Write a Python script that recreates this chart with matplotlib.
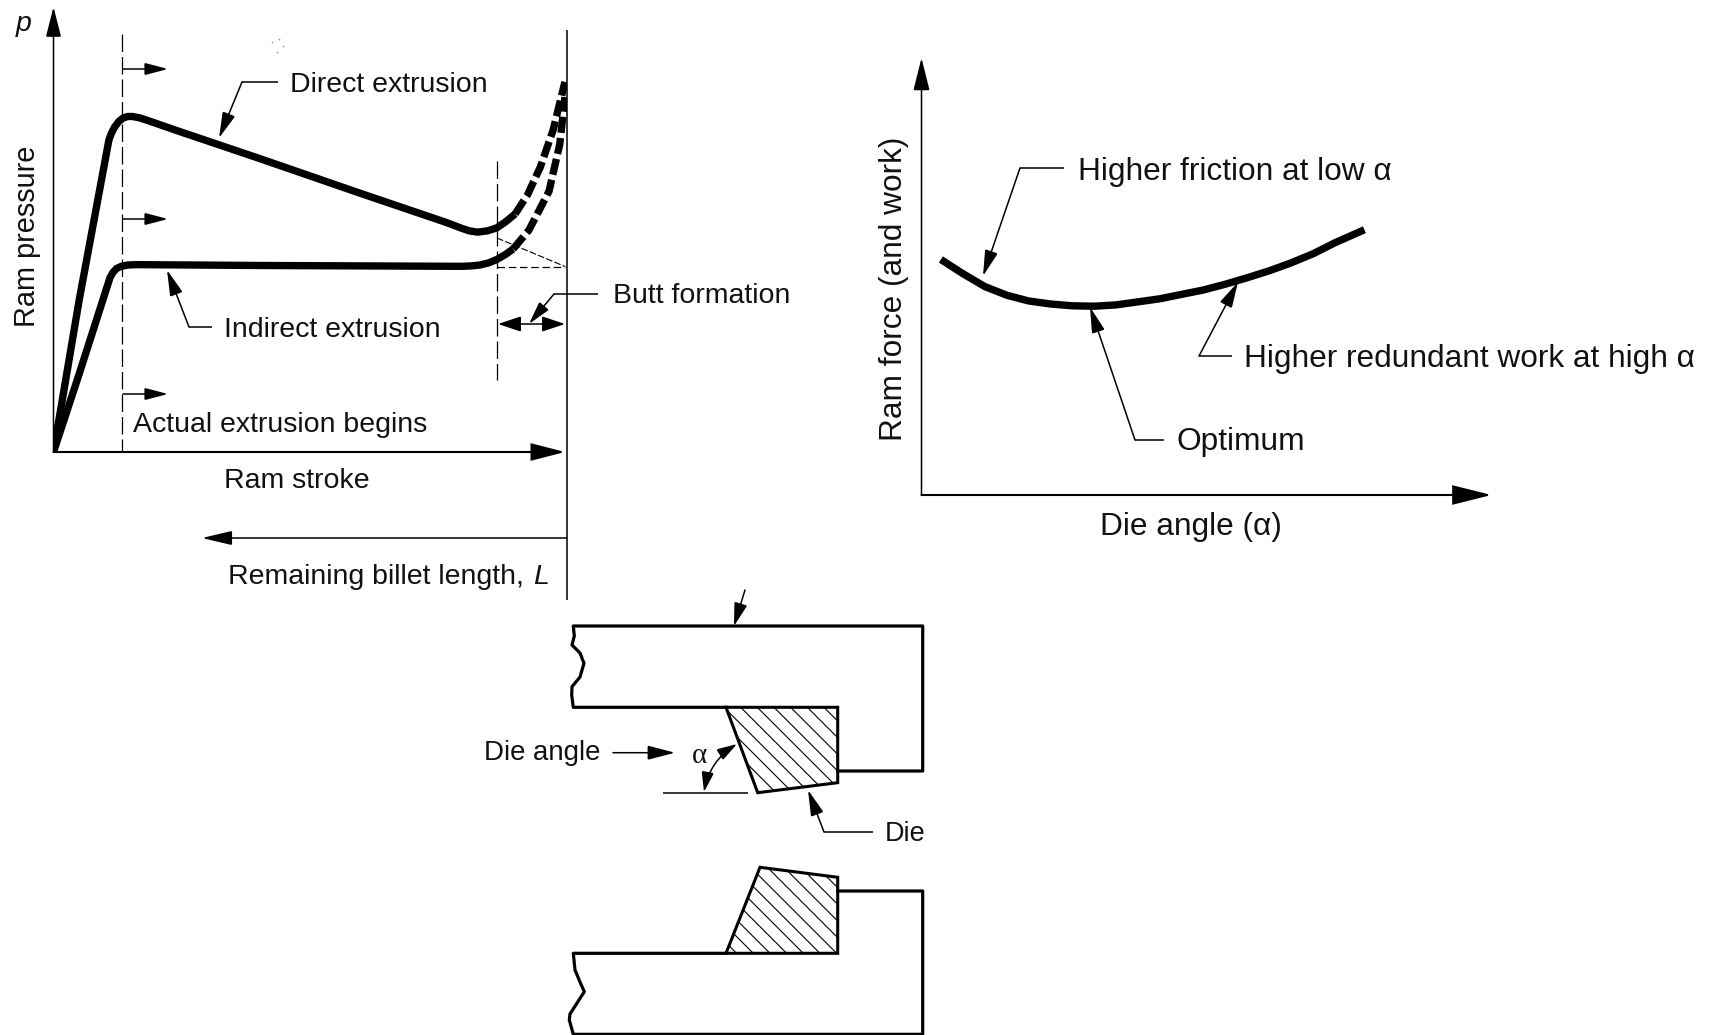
import matplotlib
matplotlib.use("Agg")
import matplotlib.pyplot as plt
from matplotlib.patches import Polygon, FancyArrowPatch

plt.rcParams['font.family'] = ['Liberation Sans', 'DejaVu Sans']
plt.rcParams['hatch.linewidth'] = 0.8

W, H = 1716, 1035

# Ram pressure vs stroke (stroke %, pressure %)
direct_x = [0, 5, 10.8, 11.3, 11.9, 12.7, 13.5, 14.4, 15.4, 16.7, 18, 24.9, 40, 60, 76, 78, 79.5, 81, 82.6, 84.5, 86.3, 88, 89.9]
direct_y = [0, 36, 74, 75.6, 77, 78.3, 79.1, 79.5, 79.5, 79.2, 78.7, 75.8, 69.6, 61.2, 54.6, 53.7, 53.0, 52.4, 52.1, 52.4, 53.1, 54.5, 56.4]
direct_end_x = [89.9, 92.3, 94.8, 97.3, 99.6]
direct_end_y = [56.4, 60.9, 67.5, 76.3, 87.7]
indirect_x = [0, 5, 11, 11.6, 12.3, 13.2, 14.4, 16, 40, 79.5, 81.4, 83, 84.7, 86.3, 88, 89.5]
indirect_y = [0, 18.5, 41.3, 42.6, 43.5, 44.0, 44.3, 44.4, 44.2, 44.0, 44.1, 44.3, 44.8, 45.6, 46.8, 48.1]
indirect_end_x = [89.5, 92.6, 96.5, 98.6, 99.6]
indirect_end_y = [48.1, 52.6, 61.8, 73, 84.1]

# Ram force vs die angle (angle %, force %)
force_x = [3.4, 7.2, 11.1, 15, 18.8, 22.7, 26.4, 30.3, 34.1, 38, 41.8, 45.6, 49.4, 53.2, 57.1, 61, 64.8, 68.7, 72.5, 77.7]
force_y = [53.9, 50.7, 47.7, 45.7, 44.4, 43.7, 43.3, 43.2, 43.5, 44.2, 44.9, 45.9, 46.9, 48.2, 49.7, 51.3, 53.1, 55.2, 57.7, 60.7]

# Die sketch outlines
upper_block_x = [726, 573.3, 571.7, 572, 580, 584, 580, 572, 574.3, 573.3, 922.7, 922.7, 837.7]
upper_block_y = [707.3, 707.3, 695, 686.7, 677, 663.3, 653, 645, 636, 626, 626, 771, 771]
lower_block_x = [837.7, 922.7, 922.7, 573.3, 569.3, 570, 584.3, 580, 575, 573.3, 726]
lower_block_y = [891, 891, 1034.3, 1034.3, 1020, 1014, 991.7, 982, 970, 953.3, 953.3]
upper_die = [(726, 707.3), (837.7, 707.3), (837.7, 782.7), (757.7, 792.7)]
lower_die = [(726, 953.3), (760, 867.3), (837.7, 877.3), (837.7, 953.3)]

fig = plt.figure(figsize=(W / 100, H / 100), dpi=100, facecolor='white')


def box(x0, y0, x1, y1):
    return [x0 / W, 1 - y0 / H, (x1 - x0) / W, (y0 - y1) / H]


left = fig.add_axes(box(53.5, 452, 567, 30))
left.set_xlim(0, 100); left.set_ylim(0, 100); left.set_axis_off()
left.plot(direct_x, direct_y, color='k', lw=5.3, solid_joinstyle='round', solid_capstyle='butt')
left.plot(indirect_x, indirect_y, color='k', lw=5.3, solid_joinstyle='round', solid_capstyle='butt')
left.plot(direct_end_x, direct_end_y, color='k', lw=5.3, ls=(0, (2.2, 0.7)))
left.plot(indirect_end_x, indirect_end_y, color='k', lw=5.3, ls=(0, (2.2, 0.7)))

right = fig.add_axes(box(921.5, 495, 1491.5, 58))
right.set_xlim(0, 100); right.set_ylim(0, 100); right.set_axis_off()
right.plot(force_x, force_y, color='k', lw=5.3, solid_capstyle='butt', solid_joinstyle='round')

ov = fig.add_axes([0, 0, 1, 1], zorder=5)
ov.set_xlim(0, W); ov.set_ylim(H, 0); ov.set_axis_off(); ov.patch.set_alpha(0)


def line(xs, ys, lw=1.1, ls='-'):
    ov.plot(xs, ys, color='k', lw=lw, ls=ls, solid_capstyle='butt', dash_capstyle='butt')


def arrow(p0, p1, style='-|>', hl=0.47, hw=0.12, ms=34, lw=1.1, rad=0):
    st = f"{style},head_length={hl},head_width={hw}"
    ov.add_patch(FancyArrowPatch(p0, p1, arrowstyle=st, mutation_scale=ms, lw=lw, color='k',
                                 shrinkA=0, shrinkB=0, connectionstyle=f"arc3,rad={rad}",
                                 joinstyle='miter'))


def label(x, y, s, size=20.5, **kw):
    ov.text(x, y, s, fontsize=size, color='#111111', va='baseline', ha=kw.pop('ha', 'left'), **kw)


# Left chart frame
arrow((53.5, 452), (53.5, 7), hl=0.55, hw=0.14)
arrow((53.5, 452), (565, 452), hl=0.62, hw=0.16, lw=1.5)
line([567, 567], [30, 600])
line([122, 122], [34, 451], lw=0.9, ls=(0, (14, 4)))
line([496.5, 496.5], [161, 380], lw=0.9, ls=(0, (14, 4)))
line([497, 565], [266.5, 266.5], lw=0.9, ls=(0, (6, 3)))
line([497, 565], [238, 266.5], lw=0.8, ls=(0, (6, 2)))
for y in (69, 219, 394):
    arrow((123, y), (168, y), hl=0.42, hw=0.11)
arrow((567, 538), (202, 538), hl=0.55, hw=0.13)
arrow((498, 324), (565, 324), style='<|-|>', hl=0.42, hw=0.14)

# Left chart leaders
line([278, 242], [82, 82])
arrow((242, 82), (219, 138))
line([212, 189], [327, 327])
arrow((189, 327), (167, 270))
line([598, 554], [294, 294])
arrow((554, 294), (529, 324), hl=0.42, hw=0.11)

label(290, 92, 'Direct extrusion')
label(224, 337, 'Indirect extrusion')
label(613, 303, 'Butt formation')
label(133, 432, 'Actual extrusion begins')
label(224, 488, 'Ram stroke')
label(228, 584, 'Remaining billet length,', size=20.5)
label(533, 584, 'L', style='italic')
label(16, 31, 'p', style='italic')
ov.text(41, 236, 'Ram pressure', fontsize=20.8, rotation=90, ha='right', va='center', color='#111111')
ov.scatter([272, 279, 283, 277], [42, 39, 46, 52], s=1.5, color='#999999', lw=0)

# Right chart frame
arrow((921.5, 495), (921.5, 58), hl=0.6, hw=0.15)
arrow((921.5, 495), (1491.5, 495), hl=0.72, hw=0.18, lw=1.5)
line([1064, 1020], [168, 168])
arrow((1020, 168), (983, 276))
line([1164, 1135], [440, 440])
arrow((1135, 440), (1090, 307))
line([1232, 1199], [356, 356])
arrow((1199, 356), (1238, 282))

label(1077.5, 180, 'Higher friction at low α', size=22.8)
label(1244.5, 367, 'Higher redundant work at high α', size=22.8)
label(1176.5, 450, 'Optimum', size=22.8)
label(1099.5, 535, 'Die angle (α)', size=22.8)
ov.text(909, 289, 'Ram force (and work)', fontsize=22.8, rotation=90, ha='right', va='center', color='#111111')

# Die sketch
ov.plot(upper_block_x, upper_block_y, color='k', lw=2.3, solid_joinstyle='round')
ov.plot(lower_block_x, lower_block_y, color='k', lw=2.3, solid_joinstyle='round')
for pts in (upper_die, lower_die):
    ov.add_patch(Polygon(pts, closed=True, facecolor='white', edgecolor='k', lw=2.2, hatch='\\\\'))
arrow((745, 590), (734, 626), hl=0.42, hw=0.12)
line([663, 748], [793, 793])
arrow((613, 752.7), (675, 752.7), hl=0.5, hw=0.13)
arrow((737, 744), (704, 792), style='<|-|>', hl=0.36, hw=0.11, rad=0.22)
line([873, 824], [832, 832])
arrow((824, 832), (808, 790))
label(484, 760, 'Die angle', size=19.9)
label(692, 763, 'α', size=21, family='Liberation Serif')
label(885, 841, 'Die', size=19.5)

fig.savefig('out.png', dpi=100, facecolor='white')
